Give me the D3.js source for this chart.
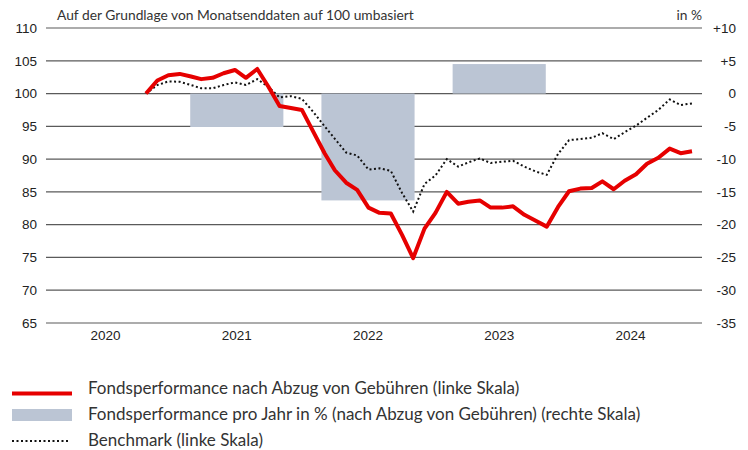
<!DOCTYPE html>
<html>
<head>
<meta charset="utf-8">
<script src="https://cdn.jsdelivr.net/npm/d3@7"></script>
<style>
	body { margin: 0; background: #fff; }
	svg { display: block; font-family: Lato, 'Open Sans', sans-serif; }
</style>
</head>
<body>
<svg id="chart"></svg>
<script>
// month-end values, both rebased to 100
const months = [
	'2020-10', '2020-11', '2020-12',
	'2021-01', '2021-02', '2021-03', '2021-04', '2021-05', '2021-06',
	'2021-07', '2021-08', '2021-09', '2021-10', '2021-11', '2021-12',
	'2022-01', '2022-02', '2022-03', '2022-04', '2022-05', '2022-06',
	'2022-07', '2022-08', '2022-09', '2022-10', '2022-11', '2022-12',
	'2023-01', '2023-02', '2023-03', '2023-04', '2023-05', '2023-06',
	'2023-07', '2023-08', '2023-09', '2023-10', '2023-11', '2023-12',
	'2024-01', '2024-02', '2024-03', '2024-04', '2024-05', '2024-06',
	'2024-07', '2024-08', '2024-09', '2024-10', '2024-11',
];
const fund = [
	100, 102.0, 102.8, 103.0, 102.6, 102.2, 102.4, 103.1, 103.6, 102.4,
	103.75, 101.0, 98.1, 97.8, 97.5, 94.2, 90.9, 88.3, 86.4, 85.3,
	82.6, 81.8, 81.7, 78.4, 74.9, 79.4, 81.8, 85.0, 83.2, 83.5,
	83.7, 82.6, 82.6, 82.8, 81.5, 80.6, 79.7, 82.7, 85.1, 85.5,
	85.6, 86.6, 85.4, 86.7, 87.7, 89.3, 90.2, 91.6, 90.9, 91.2,
];
const benchmark = [
	100, 101.3, 101.85, 101.8, 101.3, 100.8, 100.8, 101.3, 101.7, 101.3,
	102.2, 101.0, 99.4, 99.6, 99.2, 97.2, 95.0, 93.1, 91.0, 90.55,
	88.4, 88.6, 88.2, 84.8, 82.0, 86.2, 87.5, 90.0, 88.85, 89.5,
	90.1, 89.4, 89.6, 89.75, 88.85, 88.1, 87.6, 90.8, 92.9, 93.05,
	93.25, 93.95, 93.05, 94.1, 95.1, 96.3, 97.5, 99.1, 98.25, 98.5,
];
const years = ['2020', '2021', '2022', '2023', '2024'];
const barYears = ['2021', '2022', '2023'];
const barValues = [-5.1, -16.3, 4.5];
const leftTicks = [65, 70, 75, 80, 85, 90, 95, 100, 105, 110];
const rightTicks = [-35, -30, -25, -20, -15, -10, -5, 0, 5, 10];

const width = 748;
const height = 450;
const marginLeft = 46;
const marginRight = 46;
const plotTop = 28;
const plotBottom = 323;

const svg = d3.select('#chart').attr('width', width).attr('height', height);

const parse = d3.timeParse('%Y-%m');
const dates = months.map(parse);

// scales
const x = d3.scaleTime().domain(d3.extent(dates)).range([146, 692]);
const xYear = d3
	.scaleBand()
	.domain(years)
	.range([40, 696])
	.paddingInner(0.29)
	.paddingOuter(0.145);
const y = d3.scaleLinear().domain([65, 110]).range([plotBottom, plotTop]);
const yR = d3.scaleLinear().domain([-35, 10]).range([plotBottom, plotTop]);

// grid lines
svg
	.append('g')
	.selectAll()
	.data(leftTicks)
	.join('line')
	.attr('x1', marginLeft)
	.attr('x2', width - marginRight)
	.attr('y1', (d) => y(d))
	.attr('y2', (d) => y(d))
	.attr('stroke', '#5a5a5a')
	.attr('stroke-width', 1.2);

// annual bars (right scale)
svg
	.append('g')
	.selectAll()
	.data(barValues)
	.join('rect')
	.attr('fill', '#bbc5d4')
	.attr('x', (d, i) => xYear(barYears[i]))
	.attr('width', xYear.bandwidth())
	.attr('y', (d) => yR(Math.max(d, 0)))
	.attr('height', (d) => Math.abs(yR(d) - yR(0)));

const line = (values) =>
	d3
		.line()
		.x((d, i) => x(dates[i]))
		.y((d) => y(d))(values);

svg
	.append('path')
	.attr('d', line(benchmark))
	.attr('fill', 'none')
	.attr('stroke', '#111')
	.attr('stroke-width', 2)
	.attr('stroke-dasharray', '2,2.5');

svg
	.append('path')
	.attr('d', line(fund))
	.attr('fill', 'none')
	.attr('stroke', '#e60000')
	.attr('stroke-width', 4)
	.attr('stroke-linejoin', 'round');

// axes
const styleTicks = (g) =>
	g
		.selectAll('text')
		.attr('font-family', null)
		.attr('font-size', 13.5)
		.attr('fill', '#222');

svg
	.append('g')
	.attr('transform', `translate(37,0)`)
	.call(d3.axisLeft(y).tickValues(leftTicks).tickSize(0).tickPadding(0))
	.call((g) => g.select('.domain').remove())
	.call(styleTicks);

svg
	.append('g')
	.attr('transform', `translate(736,0)`)
	.call(
		d3
			.axisLeft(yR)
			.tickValues(rightTicks)
			.tickSize(0)
			.tickPadding(0)
			.tickFormat((d) => (d > 0 ? '+' + d : String(d)))
	)
	.call((g) => g.select('.domain').remove())
	.call(styleTicks);

svg
	.append('g')
	.attr('transform', `translate(0,${plotBottom})`)
	.call(d3.axisBottom(xYear).tickSize(0).tickPadding(7))
	.call((g) => g.select('.domain').remove())
	.call(styleTicks);

// header
svg
	.append('text')
	.attr('x', 57)
	.attr('y', 20)
	.attr('font-size', 13.8)
	.attr('fill', '#333')
	.text('Auf der Grundlage von Monatsenddaten auf 100 umbasiert');

svg
	.append('text')
	.attr('x', 702)
	.attr('y', 20)
	.attr('text-anchor', 'end')
	.attr('font-size', 13.8)
	.attr('fill', '#333')
	.text('in %');

// legend
const legend = svg.append('g').attr('font-size', 17).attr('fill', '#333');

legend
	.append('line')
	.attr('x1', 12)
	.attr('x2', 72)
	.attr('y1', 393.5)
	.attr('y2', 393.5)
	.attr('stroke', '#e60000')
	.attr('stroke-width', 4);
legend
	.append('rect')
	.attr('x', 12)
	.attr('y', 409)
	.attr('width', 60)
	.attr('height', 12)
	.attr('fill', '#bbc5d4');
legend
	.append('line')
	.attr('x1', 12)
	.attr('x2', 70)
	.attr('y1', 441)
	.attr('y2', 441)
	.attr('stroke', '#111')
	.attr('stroke-width', 2)
	.attr('stroke-dasharray', '2,2.5');

legend
	.selectAll('text')
	.data([
		'Fondsperformance nach Abzug von Gebühren (linke Skala)',
		'Fondsperformance pro Jahr in % (nach Abzug von Gebühren) (rechte Skala)',
		'Benchmark (linke Skala)',
	])
	.join('text')
	.attr('x', 88)
	.attr('y', (d, i) => 394 + i * 26)
	.text((d) => d);
</script>
</body>
</html>
